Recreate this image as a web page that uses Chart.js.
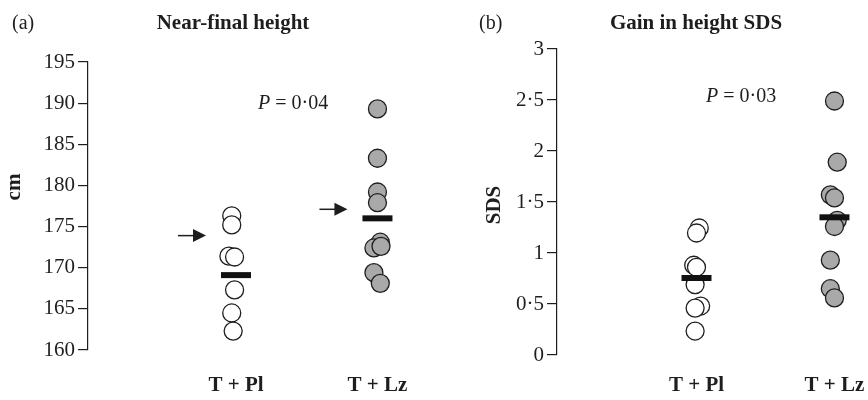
<!DOCTYPE html>
<html>
<head>
<meta charset="utf-8">
<script src="https://cdn.jsdelivr.net/npm/chart.js@4.4.1/dist/chart.umd.min.js"></script>
<style>
  html, body { margin: 0; padding: 0; background: #fff; }
  #wrap { position: relative; width: 868px; height: 400px; }
  #left { position: absolute; left: 0; top: 0; }
  #right { position: absolute; left: 440px; top: 0; }
</style>
</head>
<body>
<div id="wrap">
  <canvas id="left" width="440" height="400"></canvas>
  <canvas id="right" width="428" height="400"></canvas>
</div>
<script>
// categories
const groups = ['T + Pl', 'T + Lz'];

// (a) near-final height, cm
const heightTicks = [160, 165, 170, 175, 180, 185, 190, 195];
const heightPl = [176.3, 175.2, 171.4, 171.3, 167.3, 164.5, 162.3];
const heightPlX = [0.97, 0.97, 0.95, 0.99, 0.99, 0.97, 0.98];
const heightLz = [189.3, 183.3, 179.2, 177.9, 173.1, 172.4, 172.6, 169.4, 168.1];
const heightLzX = [2.0, 2.0, 2.0, 2.0, 2.02, 1.975, 2.025, 1.975, 2.02];
const heightMean = [169.1, 176.0];
const heightTarget = [173.9, 177.1];

// (b) gain in height SDS
const sdsTicks = [0, 0.5, 1, 1.5, 2, 2.5, 3];
const sdsPl = [1.245, 1.196, 0.88, 0.86, 0.69, 0.48, 0.46, 0.235];
const sdsPlX = [1.02, 1.0, 0.98, 1.0, 0.99, 1.03, 0.99, 0.99];
const sdsLz = [2.49, 1.89, 1.57, 1.54, 1.32, 1.26, 0.93, 0.65, 0.56];
const sdsLzX = [2.0, 2.02, 1.97, 2.0, 2.02, 2.0, 1.97, 1.97, 2.0];
const sdsMean = [0.755, 1.35];

const serif = "'Liberation Serif', 'DejaVu Serif', serif";
const ink = '#1e1e1e';

function pts(ys, xs) {
  return ys.map((y, i) => ({ x: xs[i], y: y }));
}

// free text drawn on top of each panel
const textPlugin = {
  id: 'texts',
  afterDraw(chart, args, opts) {
    const ctx = chart.ctx;
    ctx.save();
    ctx.fillStyle = ink;
    (opts.items || []).forEach(t => {
      ctx.save();
      ctx.translate(t.x, t.y);
      if (t.rotate) ctx.rotate(t.rotate);
      ctx.textBaseline = 'middle';
      const parts = t.parts || [{ text: t.text, font: t.font }];
      let total = 0;
      parts.forEach(p => { ctx.font = p.font; total += ctx.measureText(p.text).width; });
      let x = t.align === 'left' ? 0 : -total / 2;
      parts.forEach(p => {
        ctx.font = p.font;
        ctx.textAlign = 'left';
        ctx.fillText(p.text, x, 0);
        x += ctx.measureText(p.text).width;
      });
      ctx.restore();
    });
    ctx.restore();
  }
};

// arrows pointing at the target height
const arrowPlugin = {
  id: 'arrows',
  afterDatasetsDraw(chart, args, opts) {
    if (!opts.values) return;
    const ctx = chart.ctx;
    const xs = chart.scales.x, ys = chart.scales.y;
    ctx.save();
    ctx.strokeStyle = ink;
    ctx.fillStyle = ink;
    ctx.lineWidth = 1.5;
    opts.values.forEach((v, i) => {
      const y = ys.getPixelForValue(v);
      const tip = xs.getPixelForValue(i + 1) - opts.gap;
      ctx.beginPath();
      ctx.moveTo(tip - 28, y);
      ctx.lineTo(tip - 10, y);
      ctx.stroke();
      ctx.beginPath();
      ctx.moveTo(tip, y);
      ctx.lineTo(tip - 13, y - 6.5);
      ctx.lineTo(tip - 13, y + 6.5);
      ctx.closePath();
      ctx.fill();
    });
    ctx.restore();
  }
};

function makePanel(id, cfg) {
  return new Chart(document.getElementById(id), {
    type: 'scatter',
    data: {
      datasets: [
        {
          label: 'mean',
          data: cfg.mean.map((m, i) => ({ x: i + 1, y: m })),
          pointStyle: 'line',
          pointRadius: 15,
          borderWidth: 6,
          borderColor: '#111',
          order: 0
        },
        {
          label: groups[0],
          data: pts(cfg.pl, cfg.plX),
          pointStyle: 'circle',
          pointRadius: 9,
          borderWidth: 1.3,
          borderColor: ink,
          backgroundColor: '#ffffff',
          order: 1
        },
        {
          label: groups[1],
          data: pts(cfg.lz, cfg.lzX),
          pointStyle: 'circle',
          pointRadius: 9,
          borderWidth: 1.3,
          borderColor: ink,
          backgroundColor: '#a9a9a9',
          order: 1
        }
      ]
    },
    options: {
      responsive: false,
      animation: false,
      clip: false,
      layout: {
        autoPadding: false,
        padding: { top: cfg.top, left: 0, right: 0, bottom: 0 }
      },
      plugins: {
        legend: { display: false },
        tooltip: { enabled: false },
        texts: { items: cfg.texts },
        arrows: { values: cfg.target, gap: 30 }
      },
      scales: {
        x: {
          type: 'linear',
          min: cfg.xMin,
          max: cfg.xMax,
          grid: {
            display: true,
            drawOnChartArea: false,
            drawTicks: true,
            tickLength: cfg.xGap,
            color: 'rgba(0,0,0,0)'
          },
          border: { display: false },
          afterBuildTicks: s => { s.ticks = [{ value: 1 }, { value: 2 }]; },
          afterFit: s => {
            s.height = cfg.xHeight;
            s.paddingLeft = 0;
            s.paddingRight = 0;
          },
          ticks: {
            padding: 2,
            color: ink,
            font: { family: serif, size: 21, weight: 'bold' },
            callback: v => groups[v - 1]
          }
        },
        y: {
          min: cfg.ticks[0],
          max: cfg.ticks[cfg.ticks.length - 1],
          afterBuildTicks: s => { s.ticks = cfg.ticks.map(v => ({ value: v })); },
          afterFit: s => { s.width = cfg.yWidth; },
          grid: {
            display: true,
            drawOnChartArea: false,
            drawTicks: true,
            tickLength: 10,
            color: ink,
            lineWidth: 1.2
          },
          border: { display: true, color: ink, width: 1.2 },
          ticks: {
            padding: 3,
            color: ink,
            font: { family: serif, size: 21 },
            callback: v => String(v).replace('.', '\u00b7')
          }
        }
      }
    },
    plugins: [textPlugin, arrowPlugin]
  });
}

makePanel('left', {
  pl: heightPl, plX: heightPlX, lz: heightLz, lzX: heightLzX,
  mean: heightMean, target: heightTarget, ticks: heightTicks,
  xMin: -0.046, xMax: 2.442, top: 62, xHeight: 50, xGap: 21, yWidth: 88,
  texts: [
    { text: '(a)', x: 12, y: 24, align: 'left', font: '20px ' + serif },
    { text: 'Near-final height', x: 233, y: 24, font: 'bold 21px ' + serif },
    { text: 'cm', x: 15, y: 187, rotate: -Math.PI / 2, font: 'bold 21px ' + serif },
    { parts: [
        { text: 'P', font: 'italic 20px ' + serif },
        { text: ' = 0\u00b704', font: '20px ' + serif }
      ], x: 258, y: 104, align: 'left' }
  ]
});

makePanel('right', {
  pl: sdsPl, plX: sdsPlX, lz: sdsLz, lzX: sdsLzX,
  mean: sdsMean, target: null, ticks: sdsTicks,
  xMin: -0.011, xMax: 2.243, top: 49, xHeight: 45, xGap: 16, yWidth: 117,
  texts: [
    { text: '(b)', x: 39, y: 24, align: 'left', font: '20px ' + serif },
    { text: 'Gain in height SDS', x: 256, y: 24, font: 'bold 21px ' + serif },
    { text: 'SDS', x: 55, y: 205, rotate: -Math.PI / 2, font: 'bold 21px ' + serif },
    { parts: [
        { text: 'P', font: 'italic 20px ' + serif },
        { text: ' = 0\u00b703', font: '20px ' + serif }
      ], x: 266, y: 97, align: 'left' }
  ]
});
</script>
</body>
</html>
